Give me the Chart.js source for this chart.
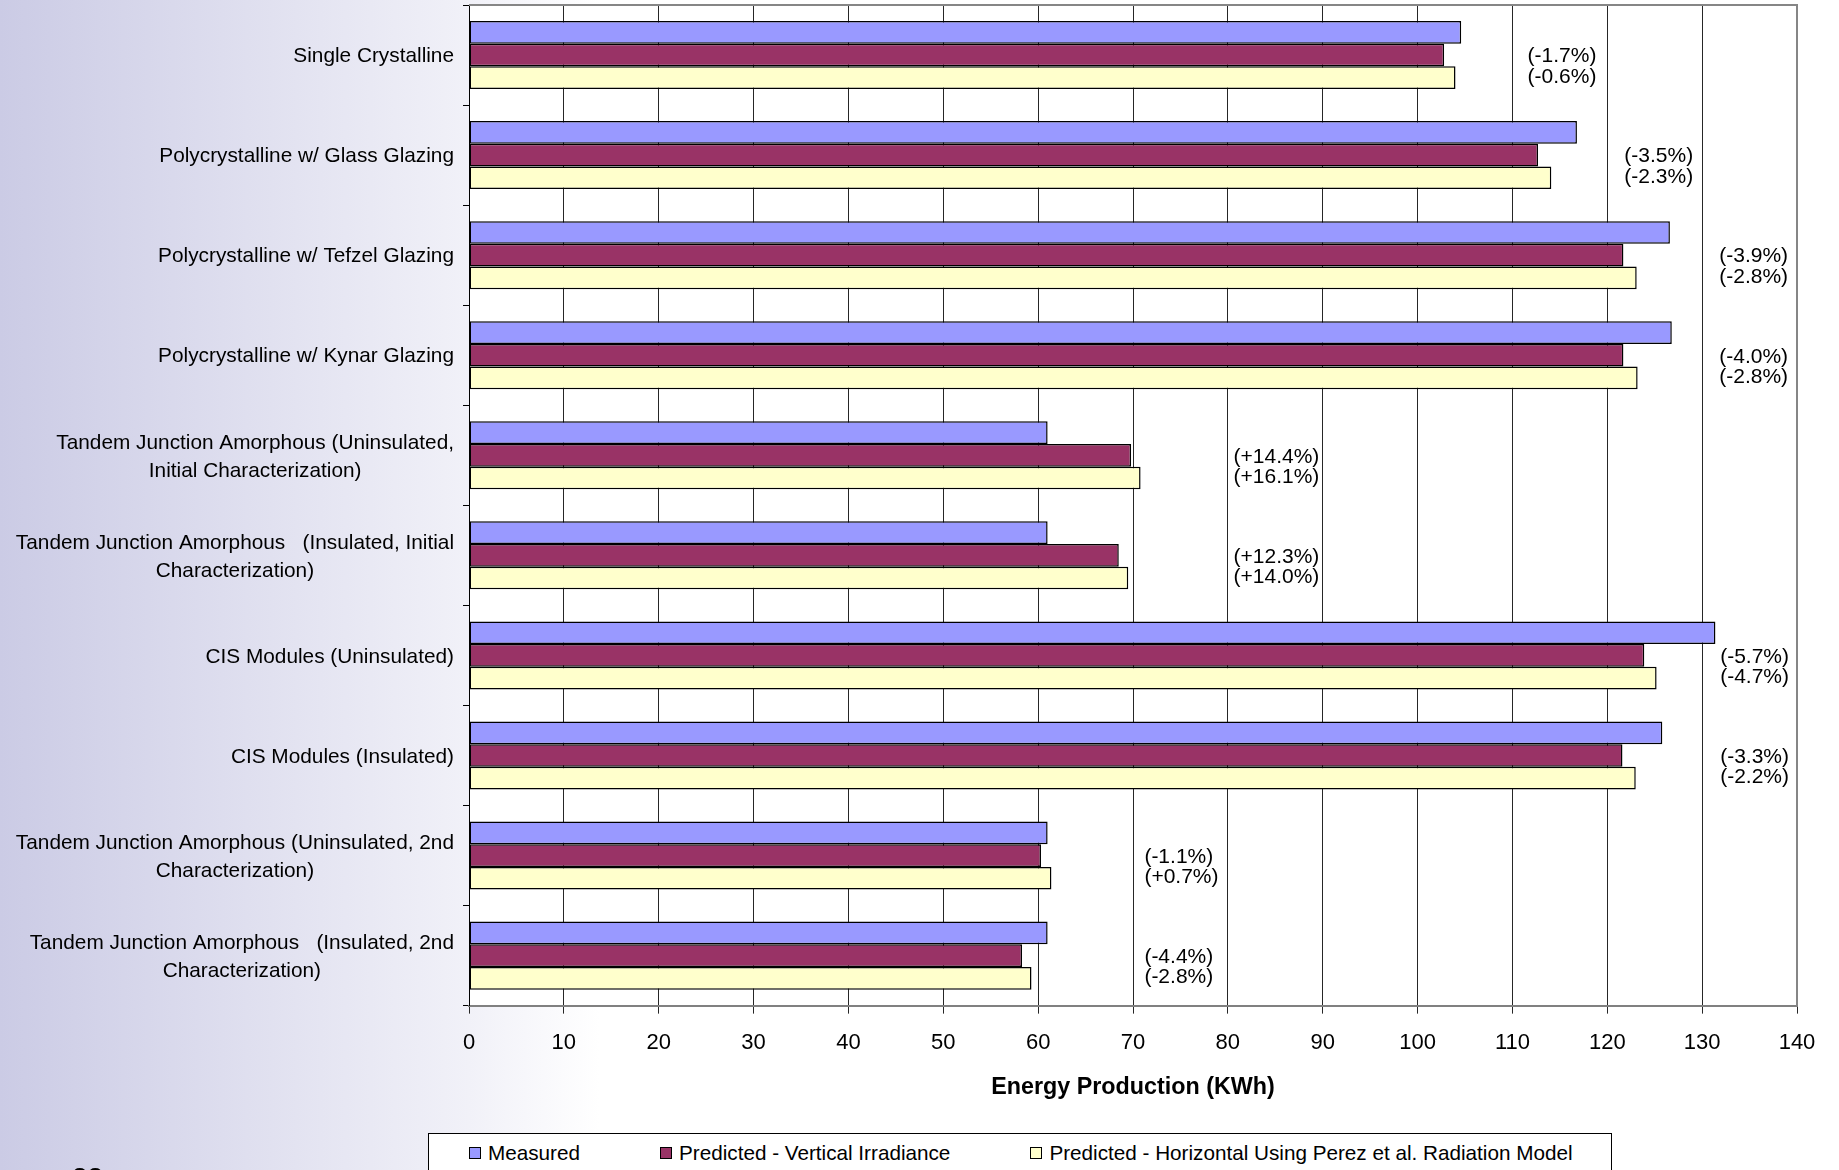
<!DOCTYPE html>
<html>
<head>
<meta charset="utf-8">
<title>Energy Production (KWh)</title>
<script src="https://cdn.jsdelivr.net/npm/chart.js@4.4.1/dist/chart.umd.min.js"></script>
<style>
  html, body { margin: 0; padding: 0; }
  body {
    width: 1839px; height: 1170px; overflow: hidden; position: relative;
    background: linear-gradient(90deg, #cbcbe5 0px, #f1f1f8 469px, #ffffff 600px);
    font-family: 'Liberation Sans', Arial, sans-serif;
  }
  #energyChart { position: absolute; left: 0; top: 0; }
  #legend {
    position: absolute; left: 428px; top: 1133px; width: 1182px; height: 60px;
    background: #fff; border: 1px solid #000;
  }
  #legend ul { list-style: none; margin: 0; padding: 0 0 0 40px; display: flex; gap: 80px; }
  #legend li { display: flex; align-items: center; height: 38px; font-size: 20.7px; color: #000; white-space: pre; }
  #legend .box { width: 10px; height: 10px; border: 1px solid #000; margin-right: 7px; }
  .page-no { position: absolute; left: 72px; top: 1162px; font: bold 28px 'Liberation Sans', Arial, sans-serif; color: #000; }
</style>
</head>
<body>
<canvas id="energyChart" width="1839" height="1170"></canvas>
<div id="legend"><ul></ul></div>
<div class="page-no">22</div>
<script>
// module types, top to bottom (multi-line names are split into rows)
const categories = [
  'Single Crystalline',
  'Polycrystalline w/ Glass Glazing',
  'Polycrystalline w/ Tefzel Glazing',
  'Polycrystalline w/ Kynar Glazing',
  ['Tandem Junction Amorphous (Uninsulated,', 'Initial Characterization)'],
  ['Tandem Junction Amorphous   (Insulated, Initial', 'Characterization)'],
  'CIS Modules (Uninsulated)',
  'CIS Modules (Insulated)',
  ['Tandem Junction Amorphous (Uninsulated, 2nd', 'Characterization)'],
  ['Tandem Junction Amorphous   (Insulated, 2nd', 'Characterization)']
];

// energy production, kWh
const measured = [104.6, 116.8, 126.6, 126.8, 61.0, 61.0, 131.4, 125.8, 61.0, 61.0];
const predVertical = [102.8, 112.7, 121.7, 121.7, 69.8, 68.5, 123.9, 121.6, 60.3, 58.3];
const predPerez = [104.0, 114.1, 123.1, 123.2, 70.8, 69.5, 125.2, 123.0, 61.4, 59.3];

// difference of each prediction from the measured value
const diffVertical = ['(-1.7%)', '(-3.5%)', '(-3.9%)', '(-4.0%)', '(+14.4%)', '(+12.3%)', '(-5.7%)', '(-3.3%)', '(-1.1%)', '(-4.4%)'];
const diffPerez = ['(-0.6%)', '(-2.3%)', '(-2.8%)', '(-2.8%)', '(+16.1%)', '(+14.0%)', '(-4.7%)', '(-2.2%)', '(+0.7%)', '(-2.8%)'];

const seriesNames = ['Measured', 'Predicted - Vertical Irradiance', 'Predicted - Horizontal Using Perez et al. Radiation Model'];
const xMin = 0, xMax = 140, xStep = 10;

const FONT = "'Liberation Sans', Arial, sans-serif";

// white plot area plus the grey frame on top and right
const plotFrame = {
  id: 'plotFrame',
  beforeDraw(chart) {
    const { ctx, chartArea: a } = chart;
    ctx.save();
    ctx.fillStyle = '#ffffff';
    ctx.fillRect(a.left, a.top, a.width, a.height);
    ctx.restore();
  },
  beforeDatasetsDraw(chart) {
    const { ctx, chartArea: a } = chart;
    ctx.save();
    ctx.strokeStyle = '#868686';
    ctx.lineWidth = 2;
    ctx.beginPath();
    ctx.moveTo(a.left, a.top);
    ctx.lineTo(a.right, a.top);
    ctx.lineTo(a.right, a.bottom);
    ctx.stroke();
    ctx.restore();
  }
};

// category names: one-liners right aligned, wrapped names centred as a block
const categoryText = {
  id: 'categoryText',
  afterDraw(chart, args, opts) {
    const { ctx } = chart;
    const y = chart.scales.y;
    ctx.save();
    ctx.font = opts.size + 'px ' + FONT;
    ctx.fillStyle = '#000';
    ctx.textAlign = 'center';
    ctx.textBaseline = 'middle';
    chart.data.labels.forEach((name, i) => {
      const rows = [].concat(name);
      const w = Math.max(...rows.map(r => ctx.measureText(r).width));
      const cx = y.right - opts.gap - w / 2;
      const cy = y.getPixelForValue(i) + opts.shift;
      rows.forEach((r, k) => ctx.fillText(r, cx, cy + (k - (rows.length - 1) / 2) * opts.lineHeight));
    });
    ctx.restore();
  }
};

// percentage differences beside each group
const diffText = {
  id: 'diffText',
  afterDatasetsDraw(chart, args, opts) {
    const { ctx } = chart;
    const { x, y } = chart.scales;
    ctx.save();
    ctx.font = opts.size + 'px ' + FONT;
    ctx.fillStyle = '#000';
    ctx.textAlign = 'left';
    ctx.textBaseline = 'middle';
    diffVertical.forEach((t, i) => {
      const px = x.getPixelForValue(opts.at[i]);
      const py = y.getPixelForValue(i) + opts.shift;
      ctx.fillText(t, px, py);
      ctx.fillText(diffPerez[i], px, py + opts.lineGap);
    });
    ctx.restore();
  }
};

// boxed legend under the axis title
const htmlLegend = {
  id: 'htmlLegend',
  afterUpdate(chart) {
    const ul = document.querySelector('#legend ul');
    ul.innerHTML = '';
    Chart.defaults.plugins.legend.labels.generateLabels(chart).forEach(item => {
      const li = document.createElement('li');
      const box = document.createElement('span');
      box.className = 'box';
      box.style.background = item.fillStyle;
      li.appendChild(box);
      li.appendChild(document.createTextNode(item.text));
      ul.appendChild(li);
    });
  }
};

const ctx = document.getElementById('energyChart');
const chart = new Chart(ctx, {
  type: 'bar',
  data: {
    labels: categories,
    datasets: [
      { label: seriesNames[0], data: measured, backgroundColor: '#9999ff' },
      { label: seriesNames[1], data: predVertical, backgroundColor: '#993366' },
      { label: seriesNames[2], data: predPerez, backgroundColor: '#ffffcc' }
    ]
  },
  options: {
    indexAxis: 'y',
    responsive: false,
    animation: false,
    layout: { padding: { top: 5, right: 42, bottom: 68, left: 0 } },
    datasets: {
      bar: {
        categoryPercentage: 0.68,
        barPercentage: 1.0,
        borderWidth: 1.5,
        borderColor: '#000',
        borderSkipped: false
      }
    },
    scales: {
      x: {
        min: xMin,
        max: xMax,
        ticks: { stepSize: xStep, color: '#000', font: { family: FONT, size: 22 }, padding: 16, maxRotation: 0 },
        grid: { color: '#262626', lineWidth: 1, tickLength: 8 },
        border: { color: '#808080', width: 2 },
        title: {
          display: true,
          text: 'Energy Production (KWh)',
          color: '#000',
          font: { family: FONT, size: 23.3, weight: 'bold' },
          padding: { top: 2, bottom: 0 }
        }
      },
      y: {
        ticks: { display: false },
        grid: { drawOnChartArea: false, color: '#000', tickLength: 6, offset: true },
        border: { color: '#000', width: 1 },
        afterFit(scale) { scale.width = 469; }
      }
    },
    plugins: {
      legend: { display: false },
      tooltip: { enabled: false },
      categoryText: { size: 20.8, gap: 15, lineHeight: 28, shift: 1.5 },
      diffText: { size: 21, lineGap: 20.5, shift: 1.5, at: [111.6, 121.8, 131.8, 131.8, 80.6, 80.6, 131.9, 131.9, 71.2, 71.2] }
    }
  },
  plugins: [plotFrame, categoryText, diffText, htmlLegend]
});
</script>
</body>
</html>
